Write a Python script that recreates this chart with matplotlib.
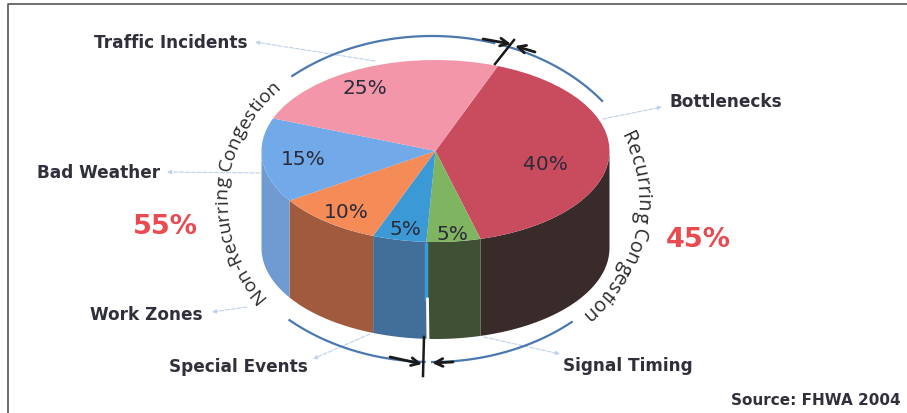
#!/usr/bin/env python3
import numpy as np
import matplotlib
matplotlib.use("Agg")
import matplotlib.pyplot as plt
from matplotlib.font_manager import FontProperties
from matplotlib.textpath import text_to_path
from matplotlib.transforms import Affine2D

# clockwise from the seam at the top of the pie
categories = ["Bottlenecks", "Signal Timing", "Special Events", "Work Zones", "Bad Weather", "Traffic Incidents"]
shares = [40, 5, 5, 10, 15, 25]
top_colors = ["#c94b5e", "#7fb560", "#3b9ad6", "#f58b57", "#72a9e8", "#f396aa"]
wall_colors = ["#3a2b2b", "#3f5034", "#416f99", "#a05a3e", "#6f9bd2", "#f396aa"]
share_labels = ["40%", "5%", "5%", "10%", "15%", "25%"]
share_label_x = [545, 452, 405, 346, 303, 365]
share_label_y = [165, 235, 230, 213, 160, 89]

leader_names = ["Traffic Incidents", "Bottlenecks", "Bad Weather", "Work Zones", "Special Events", "Signal Timing"]
leader_text_x = [171, 726, 99, 146, 238, 628]
leader_text_y = [43, 102, 173, 315, 367, 366]
leader_from = [(375, 62), (603, 120), (260, 174), (247, 308), (370, 335), (484, 338)]
leader_to = [(255, 43), (662, 108), (167, 173), (212, 313), (313, 360), (560, 355)]

group_labels = ["Non-Recurring Congestion", "Recurring Congestion"]
group_share_labels = ["55%", "45%"]

# pie geometry in pixels
CX, CY, RX, RY, DEPTH = 435.5, 152, 174, 91, 97
START = 69
# ring around the pie
RING_CX, RING_CY, RING_RX, RING_RY = 432, 200, 205, 165
ARC_RX, ARC_RY = 213, 163

fig = plt.figure(figsize=(9.07, 4.14), dpi=100)
ax = fig.add_axes([0, 0, 1, 1])

wedges, _ = ax.pie(shares, colors=top_colors, startangle=START, counterclock=False, radius=1)
pie_tf = Affine2D().scale(RX, -RY).translate(CX, CY) + ax.transData
for w in wedges:
    w.set_transform(pie_tf)
    w.set_zorder(4)

ax.set_aspect("auto")
ax.set_xlim(0, 907)
ax.set_ylim(414, 0)
ax.axis("off")

# side walls, only the part facing the viewer
edges = START - np.cumsum([0] + shares) * 3.6
for i in range(len(shares)):
    t = np.radians(np.linspace(edges[i], edges[i + 1], 80))
    t = t[np.sin(t) <= 0.02]
    if len(t) < 2:
        continue
    x = CX + RX * np.cos(t)
    y = CY - RY * np.sin(t)
    ax.fill(np.r_[x, x[::-1]], np.r_[y, y[::-1] + DEPTH], color=wall_colors[i], lw=0, zorder=2)

# the little gap in the front of the pie
ax.plot([425.5, 425.5], [245, 300], color="#3b9ad6", lw=2.5, zorder=3)
ax.plot([427.5, 428], [300, 340], color="white", lw=2, zorder=3)

for lab, lx, ly in zip(share_labels, share_label_x, share_label_y):
    ax.text(lx, ly, lab, family="DejaVu Sans", fontsize=14.5, color="#2b2b3a", ha="center", va="center", zorder=5)

for name, lx, ly, a, b in zip(leader_names, leader_text_x, leader_text_y, leader_from, leader_to):
    ax.text(lx, ly, name, family="DejaVu Sans", weight="bold", fontsize=12.2, color="#30303c", ha="center", va="center")
    ax.annotate("", xy=b, xytext=a, zorder=1,
                arrowprops=dict(arrowstyle="-|>", color="#bcd2ec", lw=0.8, ls="--", mutation_scale=6,
                                shrinkA=0, shrinkB=0))

# blue arcs
arc_ranges = [(131, 73), (71, 37), (-132, -92), (-90, -49)]
for a, b in arc_ranges:
    t = np.radians(np.linspace(a, b, 60))
    ax.plot(RING_CX + ARC_RX * np.cos(t), RING_CY - ARC_RY * np.sin(t), color="#4a78b0", lw=1.6, zorder=3)

# black ticks and arrowheads where the arcs meet
ax.plot([495, 514], [65, 41], color="#1a1a1a", lw=1.8, zorder=6)
ax.plot([424, 423], [338, 377], color="#1a1a1a", lw=1.8, zorder=6)
for tip, tail in [((511, 45), (483, 40)), ((515, 47), (535, 53)), ((422, 365), (390, 358)), ((432, 364), (453, 363))]:
    ax.annotate("", xy=tip, xytext=tail, zorder=6,
                arrowprops=dict(arrowstyle="->", color="#1a1a1a", lw=2, mutation_scale=14, shrinkA=0, shrinkB=0))


def advance(s, prop):
    # width with the trailing bearing kept, the bar is only there to measure against
    bar = text_to_path.get_text_width_height_descent("|", prop, False)[0]
    return (text_to_path.get_text_width_height_descent(s + "|", prop, False)[0] - bar) * 100 / 72


def curved_text(s, mid_angle, size):
    # lay the string out letter by letter along the ring, clockwise
    prop = FontProperties(family="Open Sans", size=size)
    t = np.radians(np.linspace(mid_angle + 80, mid_angle - 80, 1500))
    x = RING_CX + RING_RX * np.cos(t)
    y = RING_CY - RING_RY * np.sin(t)
    dist = np.r_[0, np.cumsum(np.hypot(np.diff(x), np.diff(y)))]
    start = dist[-1] / 2 - advance(s, prop) / 2
    for i, ch in enumerate(s):
        d = start + advance(s[:i + 1], prop) - advance(ch, prop) / 2
        px = np.interp(d, dist, x)
        py = np.interp(d, dist, y)
        dx = np.interp(d + 1, dist, x) - np.interp(d - 1, dist, x)
        dy = np.interp(d + 1, dist, y) - np.interp(d - 1, dist, y)
        ax.text(px, py, ch, fontproperties=prop, color="#2a2a2a", rotation=np.degrees(np.arctan2(-dy, dx)),
                rotation_mode="anchor", ha="center", va="baseline")


curved_text(group_labels[0], 177, 13.8)
curved_text(group_labels[1], -9, 14.3)

ax.text(165, 227, group_share_labels[0], family="DejaVu Sans", weight="bold", fontsize=19.5, color="#ea4b50", ha="center", va="center")
ax.text(698, 240, group_share_labels[1], family="DejaVu Sans", weight="bold", fontsize=19.5, color="#ea4b50", ha="center", va="center")
ax.text(901, 401, "Source: FHWA 2004", family="DejaVu Sans", weight="bold", fontsize=11, color="#30303c", ha="right", va="center")

# frame of the scanned figure
ax.plot([8, 8, 907], [414, 5, 5], color="#555555", lw=1.2, zorder=1)

fig.savefig("out.png", dpi=100, facecolor="white")
